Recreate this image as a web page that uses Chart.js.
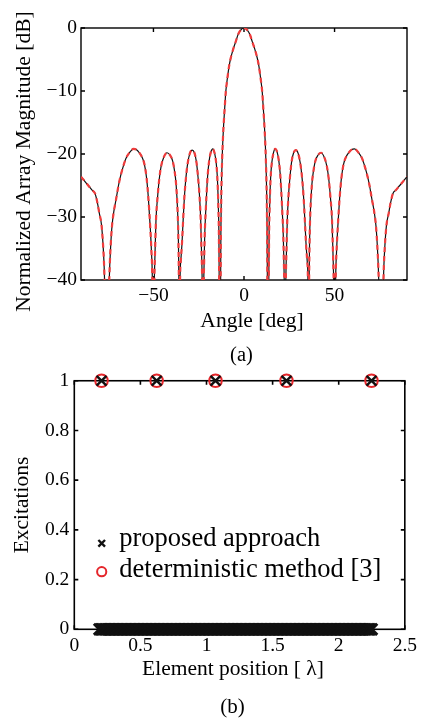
<!DOCTYPE html>
<html>
<head>
<meta charset="utf-8">
<script src="https://cdn.jsdelivr.net/npm/chart.js@4.4.1/dist/chart.umd.min.js"></script>
<style>
  html, body { margin: 0; padding: 0; background: #fff; }
  body { width: 424px; height: 720px; position: relative; overflow: hidden; }
  .panel { position: absolute; left: 0; width: 424px; }
  #panel-a { top: 0; height: 366px; }
  #panel-b { top: 366px; height: 354px; }
</style>
</head>
<body>
<div class="panel" id="panel-a"><canvas id="patternChart"></canvas></div>
<div class="panel" id="panel-b"><canvas id="excitationChart"></canvas></div>
<script>
// (a) array pattern
const angleDeg = [
  -90, -88, -86, -84, -82.2, -80.9, -79.9, -78.7, -77.8, -77.2,
  -77.0, -75.7, -74.4, -74.1, -73.6, -72.9, -71.8, -70.7, -69.3, -67.9,
  -66.5, -65.2, -63, -61, -59.5, -57.8, -56.3, -55, -53.8, -52.8,
  -51.7, -51.1, -50.6, -50.1, -49.5, -49.2, -48.6, -47.7, -46.8, -45.8,
  -44.3, -42.5, -40.8, -39.4, -38.4, -37.5, -36.6, -36.2, -35.95, -35.6,
  -35.3, -34.9, -34.2, -33.6, -32.9, -32, -31.1, -29.9, -28.6, -27.4,
  -26.3, -25.4, -24.6, -23.9, -23.5, -23.1, -22.65, -22.2, -22.0, -21.7,
  -21.2, -20.6, -20, -19.2, -18.3, -17.2, -16.2, -15.4, -14.8, -14.4,
  -14.1, -13.85, -13.7, -13.3, -12.9, -12.75, -12.5, -12.05, -11.7, -11.25,
  -10.65, -10.05, -9.5, -8.95, -8.2, -7.35, -6, -4.6, -3.2, -2,
  0,
  2, 3.2, 4.6, 6, 7.35, 8.2, 8.95, 9.5, 10.05, 10.65,
  11.25, 11.7, 12.05, 12.5, 12.75, 12.9, 13.3, 13.7, 13.85, 14.1,
  14.4, 14.8, 15.4, 16.2, 17.2, 18.3, 19.2, 20, 20.6, 21.2,
  21.7, 22.0, 22.2, 22.65, 23.1, 23.5, 23.9, 24.6, 25.4, 26.3,
  27.4, 28.6, 29.9, 31.1, 32, 32.9, 33.6, 34.2, 34.9, 35.3,
  35.6, 35.95, 36.2, 36.6, 37.5, 38.4, 39.4, 40.8, 42.5, 44.3,
  45.8, 46.8, 47.7, 48.6, 49.2, 49.5, 50.1, 50.6, 51.1, 51.7,
  52.8, 53.8, 55, 56.3, 57.8, 59.5, 61, 63, 65.2, 66.5,
  67.9, 69.3, 70.7, 71.8, 72.9, 73.6, 74.1, 74.4, 75.7, 77.0,
  77.2, 77.8, 78.7, 79.9, 80.9, 82.2, 84, 86, 88, 90
];
const proposedDb = [
  -23.6, -24.3, -25.0, -25.7, -26.3, -27.8, -29.4, -31.2, -34.5, -38,
  -40, -55, -40, -37.5, -34.5, -31.5, -29, -27.3, -25, -23.2,
  -21.8, -20.7, -19.7, -19.2, -19.3, -19.8, -20.5, -21.6, -23.8, -27,
  -32, -35.5, -40, -55, -40, -36.5, -30.5, -26.8, -24, -22,
  -20.5, -19.8, -20.2, -21.1, -22.6, -24.8, -29.5, -34, -40, -55,
  -40, -37, -34, -30.5, -26.8, -23.6, -21.5, -19.9, -19.4, -19.8,
  -21.2, -23.6, -26.5, -30.5, -35, -40, -55, -40, -37, -33,
  -29.5, -26, -23.2, -21, -19.7, -19.2, -19.9, -21.3, -23.3, -26,
  -29, -33, -40, -55, -40, -32, -26, -20.7, -18, -15.4,
  -12.7, -10.1, -8.7, -7.5, -6, -4.8, -3.4, -2.2, -1.0, -0.4,
  0,
  -0.4, -1.0, -2.2, -3.4, -4.8, -6, -7.5, -8.7, -10.1, -12.7,
  -15.4, -18, -20.7, -26, -32, -40, -55, -40, -33, -29,
  -26, -23.3, -21.3, -19.9, -19.2, -19.7, -21, -23.2, -26, -29.5,
  -33, -37, -40, -55, -40, -35, -30.5, -26.5, -23.6, -21.2,
  -19.8, -19.4, -19.9, -21.5, -23.6, -26.8, -30.5, -34, -37, -40,
  -55, -40, -34, -29.5, -24.8, -22.6, -21.1, -20.2, -19.8, -20.5,
  -22, -24, -26.8, -30.5, -36.5, -40, -55, -40, -35.5, -32,
  -27, -23.8, -21.6, -20.5, -19.8, -19.3, -19.2, -19.7, -20.7, -21.8,
  -23.2, -25, -27.3, -29, -31.5, -34.5, -37.5, -40, -55, -40,
  -38, -34.5, -31.2, -29.4, -27.8, -26.3, -25.7, -25.0, -24.3, -23.6
];
// the two patterns lie on top of each other in the figure
const deterministicDb = proposedDb;
const angleTicks = [-50, 0, 50];
const dbTicks = [-40, -30, -20, -10, 0];

// (b) excitations
const activePos = [0.206, 0.623, 1.068, 1.605, 2.248];
const activeExc = [1, 1, 1, 1, 1];
// dense grid of candidate positions left with zero excitation
const zeroPos = [
  0.19, 0.20, 0.21, 0.22, 0.23, 0.24, 0.25, 0.26, 0.27, 0.28,
  0.29, 0.30, 0.31, 0.32, 0.33, 0.34, 0.35, 0.36, 0.37, 0.38,
  0.39, 0.40, 0.41, 0.42, 0.43, 0.44, 0.45, 0.46, 0.47, 0.48,
  0.49, 0.50, 0.51, 0.52, 0.53, 0.54, 0.55, 0.56, 0.57, 0.58,
  0.59, 0.60, 0.61, 0.62, 0.63, 0.64, 0.65, 0.66, 0.67, 0.68,
  0.69, 0.70, 0.71, 0.72, 0.73, 0.74, 0.75, 0.76, 0.77, 0.78,
  0.79, 0.80, 0.81, 0.82, 0.83, 0.84, 0.85, 0.86, 0.87, 0.88,
  0.89, 0.90, 0.91, 0.92, 0.93, 0.94, 0.95, 0.96, 0.97, 0.98,
  0.99, 1.00, 1.01, 1.02, 1.03, 1.04, 1.05, 1.06, 1.07, 1.08,
  1.09, 1.10, 1.11, 1.12, 1.13, 1.14, 1.15, 1.16, 1.17, 1.18,
  1.19, 1.20, 1.21, 1.22, 1.23, 1.24, 1.25, 1.26, 1.27, 1.28,
  1.29, 1.30, 1.31, 1.32, 1.33, 1.34, 1.35, 1.36, 1.37, 1.38,
  1.39, 1.40, 1.41, 1.42, 1.43, 1.44, 1.45, 1.46, 1.47, 1.48,
  1.49, 1.50, 1.51, 1.52, 1.53, 1.54, 1.55, 1.56, 1.57, 1.58,
  1.59, 1.60, 1.61, 1.62, 1.63, 1.64, 1.65, 1.66, 1.67, 1.68,
  1.69, 1.70, 1.71, 1.72, 1.73, 1.74, 1.75, 1.76, 1.77, 1.78,
  1.79, 1.80, 1.81, 1.82, 1.83, 1.84, 1.85, 1.86, 1.87, 1.88,
  1.89, 1.90, 1.91, 1.92, 1.93, 1.94, 1.95, 1.96, 1.97, 1.98,
  1.99, 2.00, 2.01, 2.02, 2.03, 2.04, 2.05, 2.06, 2.07, 2.08,
  2.09, 2.10, 2.11, 2.12, 2.13, 2.14, 2.15, 2.16, 2.17, 2.18,
  2.19, 2.20, 2.21, 2.22, 2.23, 2.24, 2.25
];
const zeroExc = 0;
const deterministicPos = [0.206, 0.623, 1.068, 1.605, 2.248];
const deterministicExc = [1, 1, 1, 1, 1];
const posTicks = [0, 0.5, 1, 1.5, 2, 2.5];
const excTicks = [0, 0.2, 0.4, 0.6, 0.8, 1];

const SERIF = '"Liberation Serif", "Times New Roman", serif';
Chart.defaults.font.family = SERIF;
Chart.defaults.color = '#000';

function points(xs, ys) {
  return xs.map((x, i) => ({ x: x, y: ys[i] }));
}

function minusSign(v) {
  return v < 0 ? '\u2212' + Math.abs(v) : String(v);
}

function fixedTicks(values) {
  return scale => { scale.ticks = values.map(v => ({ value: v })); };
}

// matlab style box with inward ticks on all four sides
const framePlugin = {
  id: 'frame',
  beforeDatasetsDraw(chart, args, opts) {
    const { ctx, chartArea: a, scales } = chart;
    const len = opts.tickLength;
    ctx.save();
    ctx.strokeStyle = '#000';
    ctx.lineWidth = opts.lineWidth;
    ctx.strokeRect(a.left, a.top, a.right - a.left, a.bottom - a.top);
    ctx.beginPath();
    scales.x.ticks.forEach(t => {
      const px = scales.x.getPixelForValue(t.value);
      ctx.moveTo(px, a.bottom); ctx.lineTo(px, a.bottom - len);
      ctx.moveTo(px, a.top); ctx.lineTo(px, a.top + len);
    });
    scales.y.ticks.forEach(t => {
      const py = scales.y.getPixelForValue(t.value);
      ctx.moveTo(a.left, py); ctx.lineTo(a.left + len, py);
      ctx.moveTo(a.right, py); ctx.lineTo(a.right - len, py);
    });
    ctx.stroke();
    ctx.restore();
  }
};

// axis titles and panel captions
const textPlugin = {
  id: 'texts',
  afterDraw(chart, args, opts) {
    const ctx = chart.ctx;
    opts.items.forEach(it => {
      ctx.save();
      ctx.fillStyle = '#000';
      ctx.font = it.size + 'px ' + SERIF;
      ctx.textAlign = 'center';
      ctx.textBaseline = 'alphabetic';
      ctx.translate(it.x, it.y);
      if (it.rotate) ctx.rotate(-Math.PI / 2);
      ctx.fillText(it.text, 0, 0);
      ctx.restore();
    });
  }
};

// legend placed inside the axes, drawn with the dataset markers
const markerLegend = {
  id: 'markerLegend',
  afterDatasetsDraw(chart, args, opts) {
    const ctx = chart.ctx;
    opts.rows.forEach(row => {
      const ds = chart.data.datasets[row.dataset];
      ctx.save();
      ctx.strokeStyle = ds.borderColor;
      ctx.fillStyle = 'rgba(0,0,0,0)';
      ctx.lineWidth = ds.borderWidth;
      Chart.helpers.drawPoint(ctx, {
        pointStyle: ds.pointStyle, radius: row.radius, borderWidth: ds.borderWidth, rotation: 0
      }, row.x, row.y);
      ctx.fillStyle = '#000';
      ctx.font = opts.size + 'px ' + SERIF;
      ctx.textAlign = 'left';
      ctx.textBaseline = 'alphabetic';
      ctx.fillText(ds.label, row.textX, row.textY);
      ctx.restore();
    });
  }
};

const tickFont = { size: 19.5, lineHeight: 1 };

function initPatternChart() {
  const ctx = document.getElementById('patternChart').getContext('2d');
  new Chart(ctx, {
    type: 'line',
    data: {
      datasets: [
        {
          label: 'deterministic method [3]',
          data: points(angleDeg, deterministicDb),
          borderColor: '#f03c3c',
          borderWidth: 2.2,
          borderDash: [5, 4],
          pointRadius: 0,
          cubicInterpolationMode: 'monotone'
        },
        {
          label: 'proposed approach',
          data: points(angleDeg, proposedDb),
          borderColor: '#111',
          borderWidth: 1.2,
          pointRadius: 0,
          cubicInterpolationMode: 'monotone'
        }
      ]
    },
    options: {
      responsive: true,
      maintainAspectRatio: false,
      animation: false,
      layout: { padding: { top: 28, right: 17, left: 0, bottom: 0 } },
      plugins: {
        legend: { display: false },
        tooltip: { enabled: false },
        frame: { lineWidth: 1.4, tickLength: 4 },
        texts: {
          items: [
            { text: 'Normalized Array Magnitude [dB]', x: 29.5, y: 161.5, size: 21.5, rotate: true },
            { text: 'Angle [deg]', x: 252, y: 326.5, size: 21.5 },
            { text: '(a)', x: 241.5, y: 360.5, size: 20.5 }
          ]
        }
      },
      scales: {
        x: {
          type: 'linear', min: -90, max: 90,
          afterBuildTicks: fixedTicks(angleTicks),
          afterFit: s => { s.height = 86; },
          grid: { display: false, drawTicks: false },
          border: { display: false },
          ticks: { padding: 6, font: tickFont, color: '#000', callback: minusSign, maxRotation: 0, autoSkip: false }
        },
        y: {
          type: 'linear', min: -40, max: 0,
          afterBuildTicks: fixedTicks(dbTicks),
          afterFit: s => { s.width = 81; },
          grid: { display: false, drawTicks: false },
          border: { display: false },
          ticks: { padding: 4, font: tickFont, color: '#000', callback: minusSign }
        }
      }
    },
    plugins: [framePlugin, textPlugin]
  });
}

function initExcitationChart() {
  const ctx = document.getElementById('excitationChart').getContext('2d');
  new Chart(ctx, {
    type: 'scatter',
    data: {
      datasets: [
        {
          label: 'proposed approach',
          data: points(activePos, activeExc),
          pointStyle: 'crossRot',
          pointRadius: 7,
          borderColor: '#111',
          borderWidth: 2.4,
          clip: false
        },
        {
          // same series: the zero-excitation candidates merge into a solid bar
          label: 'proposed approach',
          data: zeroPos.map(x => ({ x: x, y: zeroExc })),
          pointStyle: 'crossRot',
          pointRadius: 7.8,
          borderColor: '#111',
          borderWidth: 3,
          clip: false
        },
        {
          label: 'deterministic method [3]',
          data: points(deterministicPos, deterministicExc),
          pointStyle: 'circle',
          pointRadius: 6.3,
          borderColor: '#e5262b',
          backgroundColor: 'rgba(0,0,0,0)',
          borderWidth: 2,
          clip: false
        }
      ]
    },
    options: {
      responsive: true,
      maintainAspectRatio: false,
      animation: false,
      layout: { padding: { top: 12.3, right: 16.5, left: 0, bottom: 0 } },
      plugins: {
        legend: { display: false },
        tooltip: { enabled: false },
        frame: { lineWidth: 1.6, tickLength: 4 },
        markerLegend: {
          size: 26.5,
          rows: [
            { dataset: 0, radius: 4.7, x: 101.7, y: 177.3, textX: 119.3, textY: 180 },
            { dataset: 2, radius: 4.6, x: 101.7, y: 205.7, textX: 119.3, textY: 210.7 }
          ]
        },
        texts: {
          items: [
            { text: 'Excitations', x: 28, y: 139, size: 21.5, rotate: true },
            { text: 'Element position [ \u03bb]', x: 233, y: 309, size: 21.5 },
            { text: '(b)', x: 232.5, y: 346.5, size: 21 }
          ]
        }
      },
      scales: {
        x: {
          type: 'linear', min: 0, max: 2.5,
          afterBuildTicks: fixedTicks(posTicks),
          afterFit: s => { s.height = 90.7; },
          grid: { display: false, drawTicks: false },
          border: { display: false },
          ticks: { padding: 7, font: tickFont, color: '#000', maxRotation: 0, autoSkip: false, callback: v => String(v) }
        },
        y: {
          type: 'linear', min: 0, max: 1,
          afterBuildTicks: fixedTicks(excTicks),
          afterFit: s => { s.width = 74.3; },
          grid: { display: false, drawTicks: false },
          border: { display: false },
          ticks: { padding: 5, font: tickFont, color: '#000', callback: v => String(v) }
        }
      }
    },
    plugins: [framePlugin, markerLegend, textPlugin]
  });
}

initPatternChart();
initExcitationChart();
</script>
</body>
</html>
